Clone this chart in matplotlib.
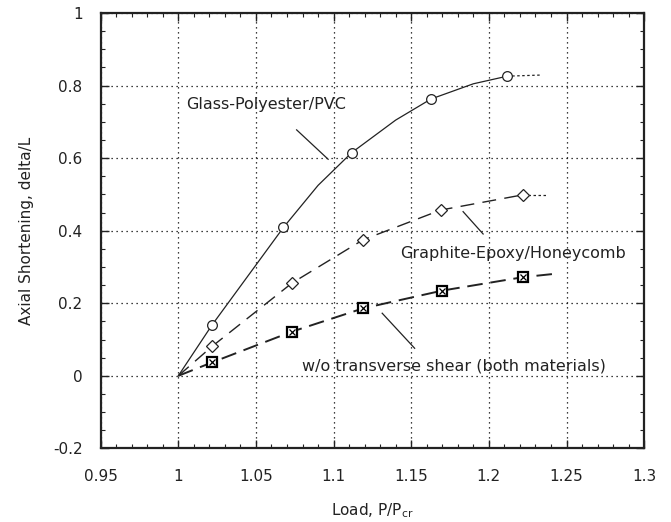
import matplotlib
matplotlib.use("Agg")
import matplotlib.pyplot as plt
from matplotlib.ticker import MultipleLocator

# Glass-Polyester/PVC (line through points)
glass_x = [1.0, 1.0217, 1.0677, 1.09, 1.1116, 1.14, 1.1627, 1.19, 1.2118]
glass_y = [0.0, 0.140, 0.409, 0.525, 0.615, 0.705, 0.763, 0.805, 0.826]
glass_tail_x = [1.2118, 1.2328]
glass_tail_y = [0.826, 0.829]
glass_mx = [1.0217, 1.0677, 1.1116, 1.1627, 1.2118]
glass_my = [0.140, 0.409, 0.615, 0.763, 0.826]

# Graphite-Epoxy/Honeycomb (diamonds)
graph_x = [1.0, 1.0217, 1.0733, 1.119, 1.169, 1.222]
graph_y = [0.0, 0.081, 0.256, 0.375, 0.457, 0.499]
graph_tail_x = [1.222, 1.237]
graph_tail_y = [0.499, 0.499]
graph_mx = [1.0217, 1.0733, 1.119, 1.169, 1.222]
graph_my = [0.081, 0.256, 0.375, 0.457, 0.499]

# w/o transverse shear (squares with x)
shear_x = [1.0, 1.0217, 1.0733, 1.119, 1.170, 1.222, 1.242]
shear_y = [0.0, 0.037, 0.122, 0.186, 0.235, 0.272, 0.281]
shear_mx = [1.0217, 1.0733, 1.119, 1.170, 1.222]
shear_my = [0.037, 0.122, 0.186, 0.235, 0.272]

plt.rcParams['font.family'] = ['DejaVu Sans']

fig = plt.figure(figsize=(6.71, 5.22), dpi=100)
ax = fig.add_axes([0.150, 0.141, 0.810, 0.834])

ink = "#222222"
fs = 11
ax.plot(glass_x, glass_y, color=ink, lw=0.9, ls='-')
ax.plot(glass_tail_x, glass_tail_y, color=ink, lw=0.9, ls=(0, (2, 2)))
ax.plot(glass_mx, glass_my, ls='none', marker='o', ms=7, mfc='white', mec=ink, mew=0.9)

ax.plot(graph_x, graph_y, color=ink, lw=1.0, ls=(0, (10, 6)))
ax.plot(graph_tail_x, graph_tail_y, color=ink, lw=0.9, ls=(0, (2, 2)))
ax.plot(graph_mx, graph_my, ls='none', marker='D', ms=6, mfc='white', mec=ink, mew=0.9)

ax.plot(shear_x, shear_y, color=ink, lw=1.4, ls=(0, (8, 4)))
ax.plot(shear_mx, shear_my, ls='none', marker='s', ms=7.5, mfc='white', mec='black', mew=1.6)
ax.plot(shear_mx, shear_my, ls='none', marker='x', ms=5, mec='black', mew=0.9)

# annotations
afs = 11.5
ax.text(1.005, 0.747, "Glass-Polyester/PVC", fontsize=afs, va='center', color=ink)
ax.plot([1.0762, 1.0965], [0.678, 0.597], color=ink, lw=0.9)
ax.text(1.1427, 0.336, "Graphite-Epoxy/Honeycomb", fontsize=afs, va='center', color=ink)
ax.plot([1.1834, 1.1963], [0.4526, 0.391], color=ink, lw=0.9)
ax.text(1.0794, 0.0275, "w/o transverse shear (both materials)", fontsize=afs, va='center', color=ink)
ax.plot([1.1313, 1.1522], [0.1726, 0.076], color=ink, lw=0.9)

ax.set_xlim(0.95, 1.3)
ax.set_ylim(-0.2, 1.0)
ax.xaxis.set_minor_locator(MultipleLocator(0.01))
ax.yaxis.set_minor_locator(MultipleLocator(0.05))
ax.set_xticks([0.95, 1.0, 1.05, 1.1, 1.15, 1.2, 1.25, 1.3])
ax.set_xticklabels(["0.95", "1", "1.05", "1.1", "1.15", "1.2", "1.25", "1.3"])
ax.set_yticks([-0.2, 0, 0.2, 0.4, 0.6, 0.8, 1.0])
ax.set_yticklabels(["-0.2", "0", "0.2", "0.4", "0.6", "0.8", "1"])
ax.tick_params(which='both', direction='in', top=True, right=True, colors=ink, labelsize=fs)
ax.tick_params(which='major', length=6, width=1.0)
ax.tick_params(which='minor', length=3, width=0.8)
ax.tick_params(axis='x', which='major', pad=15)
ax.tick_params(axis='y', which='major', pad=13)
ax.grid(True, which='major', color='black', ls=(0, (1, 3)), lw=0.9)
for s in ax.spines.values():
    s.set_linewidth(1.6)
    s.set_color(ink)

ax.set_xlabel("Load, P/P$_{\\rm cr}$", fontsize=fs, color=ink, labelpad=12)
ax.set_ylabel("Axial Shortening, delta/L", fontsize=fs, color=ink, labelpad=14)

fig.savefig("out.png", dpi=100)
